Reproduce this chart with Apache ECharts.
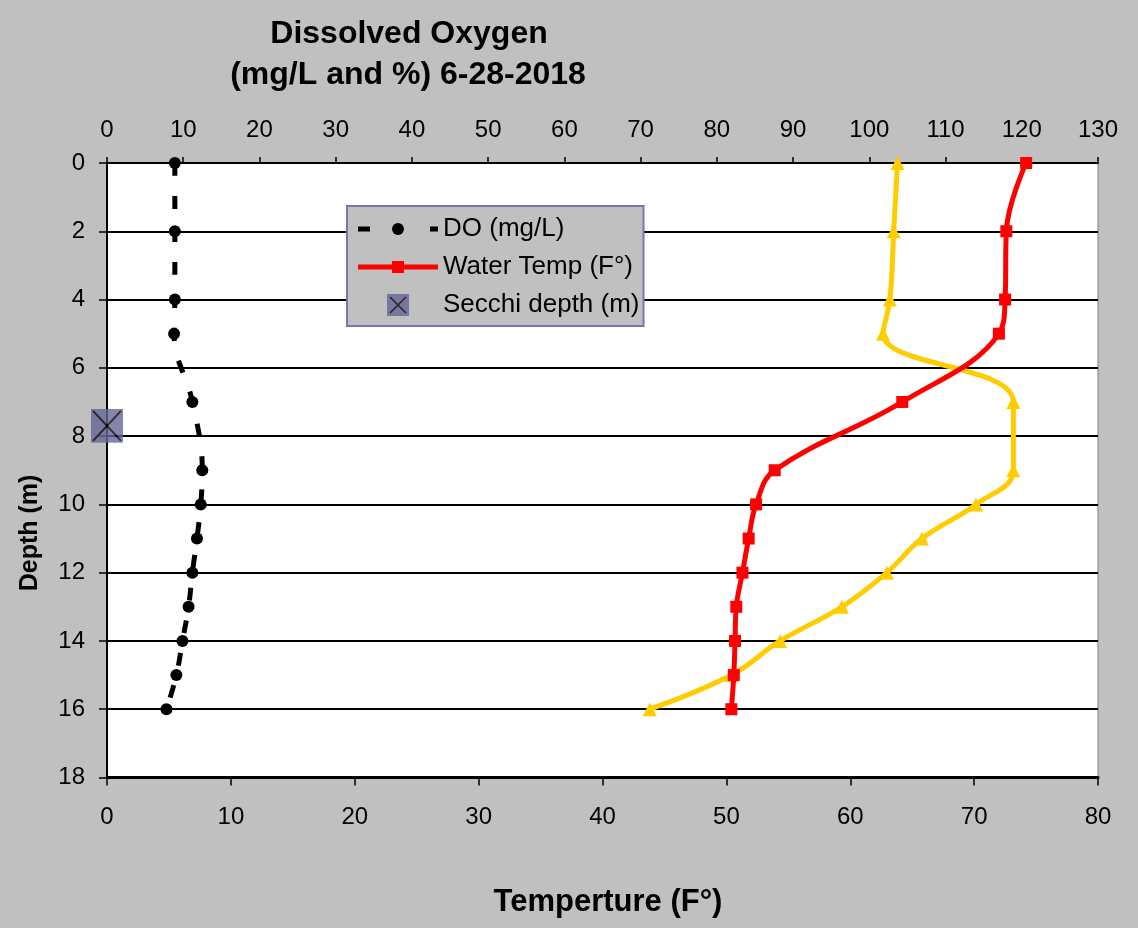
<!DOCTYPE html>
<html><head><meta charset="utf-8">
<script src="https://cdn.jsdelivr.net/npm/echarts@6/dist/echarts.min.js"></script>
<style>html,body{margin:0;padding:0;background:#c0c0c0}#c{width:1138px;height:928px}</style>
</head><body><div id="c"></div>
<script>
// ---- data ----
const depths = [0, 2, 4, 5, 7, 9, 10, 11, 12, 13, 14, 15, 16];
const doMgL = [8.9, 8.9, 8.9, 8.8, 11.2, 12.5, 12.3, 11.8, 11.2, 10.7, 9.9, 9.1, 7.8];
const doPct = [103.7, 103.2, 102.7, 101.8, 118.9, 118.9, 114.0, 106.9, 102.3, 96.4, 88.3, 81.9, 71.2];
const waterTemp = [74.2, 72.6, 72.5, 72.0, 64.2, 53.9, 52.4, 51.8, 51.3, 50.8, 50.7, 50.6, 50.4];
const secchiDepth = 7.7;
const secchiX = 0;
const seriesNames = ['DO (mg/L)', 'Water Temp (F°)', 'Secchi depth (m)', 'DO (%)'];
const titleLines = ['Dissolved Oxygen', '(mg/L and %) 6-28-2018'];
const xTitle = 'Temperture (F°)';
const yTitle = 'Depth (m)';

const FONT = "'Liberation Sans', Arial, sans-serif";
function svgUri(svg) { return 'image://data:image/svg+xml;charset=utf-8,' + encodeURIComponent(svg); }
const secchiSym = svgUri('<svg xmlns="http://www.w3.org/2000/svg" width="32" height="34" viewBox="0 0 32 34"><rect x="0" y="0" width="32" height="34" fill="#666699"/><path d="M2 2 L30 32 M30 2 L2 32" stroke="#000" stroke-width="2"/></svg>');
const legSecchi = svgUri('<svg xmlns="http://www.w3.org/2000/svg" width="80" height="22" viewBox="0 0 80 22"><rect x="29" y="0" width="22" height="22" fill="#666699"/><path d="M32 3 L48 19 M48 3 L32 19" stroke="#000" stroke-width="1.6"/></svg>');
const legDO = svgUri('<svg xmlns="http://www.w3.org/2000/svg" width="80" height="22" viewBox="0 0 80 22"><rect x="0" y="8.5" width="12" height="5" fill="#000"/><rect x="72" y="8.5" width="8" height="5" fill="#000"/><circle cx="40" cy="11" r="6" fill="#000"/></svg>');
const legTemp = svgUri('<svg xmlns="http://www.w3.org/2000/svg" width="80" height="22" viewBox="0 0 80 22"><rect x="0" y="8.5" width="80" height="5" fill="#ff0000"/><rect x="34" y="5" width="12" height="12" fill="#ff0000"/></svg>');

const chart = echarts.init(document.getElementById('c'));
chart.setOption({
  animation: false,
  backgroundColor: '#c0c0c0',
  textStyle: { fontFamily: FONT },
  grid: { left: 107, right: 40, top: 163, bottom: 150.5, show: true, backgroundColor: '#ffffff', borderColor: '#808080', borderWidth: 1 },
  graphic: [
    { type: 'text', x: 409, y: 34, z: 10, style: { text: titleLines[0], align: 'center', verticalAlign: 'middle', font: 'bold 32px ' + FONT, fill: '#000' } },
    { type: 'text', x: 408, y: 75, z: 10, style: { text: titleLines[1], align: 'center', verticalAlign: 'middle', font: 'bold 32px ' + FONT, fill: '#000' } },
    { type: 'text', x: 608, y: 902, z: 10, style: { text: xTitle, align: 'center', verticalAlign: 'middle', font: 'bold 31px ' + FONT, fill: '#000' } },
    { type: 'text', x: 30, y: 533, rotation: Math.PI / 2, z: 10, style: { text: yTitle, align: 'center', verticalAlign: 'middle', font: 'bold 25px ' + FONT, fill: '#000' } }
  ],
  legend: {
    orient: 'vertical', left: 347, top: 206,
    padding: [10, 4, 8, 11],
    itemWidth: 80, itemHeight: 22, itemGap: 12,
    backgroundColor: '#c0c0c0', borderColor: '#7878a8', borderWidth: 2,
    selectedMode: false,
    textStyle: { fontSize: 26, color: '#000', fontFamily: FONT },
    data: [
      { name: seriesNames[0], icon: legDO },
      { name: seriesNames[1], icon: legTemp },
      { name: seriesNames[2], icon: legSecchi }
    ]
  },
  xAxis: [
    { type: 'value', position: 'bottom', min: 0, max: 80, interval: 10,
      axisLine: { show: true, onZero: false, lineStyle: { color: '#000', width: 3 } },
      axisTick: { show: true, length: 8, lineStyle: { color: '#000', width: 1.5 } },
      axisLabel: { fontSize: 24, color: '#000', margin: 28, fontFamily: FONT },
      splitLine: { show: false } },
    { type: 'value', position: 'top', min: 0, max: 130, interval: 10,
      axisLine: { show: true, onZero: false, lineStyle: { color: '#000', width: 2 } },
      axisTick: { show: true, length: 6, lineStyle: { color: '#000', width: 1.5 } },
      axisLabel: { fontSize: 24, color: '#000', margin: 21, fontFamily: FONT },
      splitLine: { show: false } }
  ],
  yAxis: {
    type: 'value', inverse: true, min: 0, max: 18, interval: 2,
    axisLine: { show: true, onZero: false, lineStyle: { color: '#000', width: 2 } },
    axisTick: { show: true, length: 8, lineStyle: { color: '#000', width: 1.5 } },
    axisLabel: { fontSize: 24, color: '#000', margin: 22, fontFamily: FONT },
    splitLine: { show: true, lineStyle: { color: '#000', width: 2 } }
  },
  series: [
    { name: seriesNames[0], type: 'line', xAxisIndex: 1, smooth: 0.4, clip: false,
      data: depths.map((d, i) => [doMgL[i], d]),
      symbol: 'circle', symbolSize: 12,
      itemStyle: { color: '#000' },
      lineStyle: { color: '#000', width: 5, type: [13, 20] }, z: 5 },
    { name: seriesNames[1], type: 'line', xAxisIndex: 0, smooth: 0.4, clip: false,
      data: depths.map((d, i) => [waterTemp[i], d]),
      symbol: 'rect', symbolSize: 12,
      itemStyle: { color: '#ff0000' },
      lineStyle: { color: '#ff0000', width: 5 }, z: 4 },
    { name: seriesNames[3], type: 'line', xAxisIndex: 1, smooth: 0.4, clip: false,
      data: depths.map((d, i) => [doPct[i], d]),
      symbol: 'triangle', symbolSize: 14,
      itemStyle: { color: '#ffcc00' },
      lineStyle: { color: '#ffcc00', width: 5 }, z: 3 },
    { name: seriesNames[2], type: 'scatter', xAxisIndex: 0, clip: false,
      data: [[secchiX, secchiDepth]],
      symbol: secchiSym, symbolSize: [32, 34], z: 6 }
  ]
});
</script>
</body></html>
